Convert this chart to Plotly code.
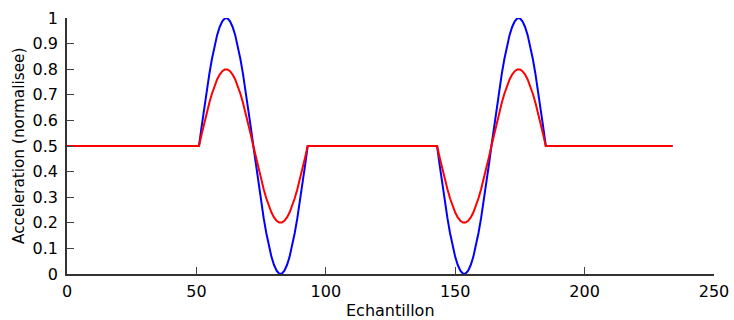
import plotly.graph_objects as go

# Flat segments (sample index, value)
flat1_x = [0, 51]
flat2_x = [93, 143]
flat3_x = [185, 234]
flat_level = 0.5

# Bump 1 (samples 51..93), blue = measured, red = filtered
bump1_x = list(range(51, 94))
blue1 = [0.5, 0.575, 0.647, 0.717, 0.782, 0.840, 0.891, 0.933, 0.965, 0.987, 0.999,
         0.999, 0.987, 0.965, 0.933, 0.891, 0.840, 0.782, 0.717, 0.647, 0.575, 0.5,
         0.425, 0.353, 0.283, 0.218, 0.160, 0.109, 0.067, 0.035, 0.013, 0.001,
         0.001, 0.013, 0.035, 0.067, 0.109, 0.160, 0.218, 0.283, 0.353, 0.425, 0.5]
red1 = [0.5, 0.545, 0.588, 0.630, 0.669, 0.704, 0.735, 0.760, 0.779, 0.792, 0.799,
        0.799, 0.792, 0.779, 0.760, 0.735, 0.704, 0.669, 0.630, 0.588, 0.545, 0.5,
        0.455, 0.412, 0.370, 0.331, 0.296, 0.265, 0.240, 0.221, 0.208, 0.201,
        0.201, 0.208, 0.221, 0.240, 0.265, 0.296, 0.331, 0.370, 0.412, 0.455, 0.5]

# Bump 2 (samples 143..185)
bump2_x = list(range(143, 186))
blue2 = [0.5, 0.425, 0.353, 0.283, 0.218, 0.160, 0.109, 0.067, 0.035, 0.013, 0.001,
         0.001, 0.013, 0.035, 0.067, 0.109, 0.160, 0.218, 0.283, 0.353, 0.425, 0.5,
         0.575, 0.647, 0.717, 0.782, 0.840, 0.891, 0.933, 0.965, 0.987, 0.999,
         0.999, 0.987, 0.965, 0.933, 0.891, 0.840, 0.782, 0.717, 0.647, 0.575, 0.5]
red2 = [0.5, 0.455, 0.412, 0.370, 0.331, 0.296, 0.265, 0.240, 0.221, 0.208, 0.201,
        0.201, 0.208, 0.221, 0.240, 0.265, 0.296, 0.331, 0.370, 0.412, 0.455, 0.5,
        0.545, 0.588, 0.630, 0.669, 0.704, 0.735, 0.760, 0.779, 0.792, 0.799,
        0.799, 0.792, 0.779, 0.760, 0.735, 0.704, 0.669, 0.630, 0.588, 0.545, 0.5]

x_ticks = [0, 50, 100, 150, 200, 250]
y_ticks = [0, 0.1, 0.2, 0.3, 0.4, 0.5, 0.6, 0.7, 0.8, 0.9, 1]
y_tick_labels = ["0", "0.1", "0.2", "0.3", "0.4", "0.5", "0.6", "0.7", "0.8", "0.9", "1"]
x_title = "Echantillon"
y_title = "Acceleration (normalisee)"


def series(ys_bump1, ys_bump2):
    xs = flat1_x[:-1] + bump1_x + flat2_x[1:-1] + bump2_x + flat3_x[1:]
    ys = [flat_level] + ys_bump1 + ys_bump2 + [flat_level]
    return xs, ys


bx, by = series(blue1, blue2)
rx, ry = series(red1, red2)

fig = go.Figure()
fig.add_trace(go.Scatter(x=bx, y=by, mode="lines",
                         line=dict(color="#0000ff", width=2), showlegend=False))
fig.add_trace(go.Scatter(x=rx, y=ry, mode="lines",
                         line=dict(color="#ff0000", width=2), showlegend=False))

font_family = "DejaVu Sans, Liberation Sans, Arial, sans-serif"
fig.update_layout(
    width=734, height=320,
    margin=dict(l=67, r=20, t=18, b=46, autoexpand=False),
    paper_bgcolor="white", plot_bgcolor="white",
    font=dict(family=font_family, size=16, color="#000000"),
)
fig.update_xaxes(
    range=[0, 250], tickvals=x_ticks, ticks="inside", ticklen=7, tickwidth=1,
    tickcolor="#444444", showline=True, linecolor="#333333", linewidth=1.5,
    showgrid=False, zeroline=False, ticklabelstandoff=2, automargin=False,
    tickfont=dict(size=16),
)
fig.update_yaxes(
    range=[0, 1], tickvals=y_ticks, ticktext=y_tick_labels, ticks="inside",
    ticklen=7, tickwidth=1, tickcolor="#444444", showline=True,
    linecolor="#333333", linewidth=1.5, showgrid=False, zeroline=False,
    ticklabelstandoff=4, automargin=False, tickfont=dict(size=16),
)
fig.add_annotation(text=x_title, xref="paper", yref="paper", x=0.5, y=0,
                   yshift=-36, xanchor="center", yanchor="middle",
                   showarrow=False, font=dict(size=16))
fig.add_annotation(text=y_title, xref="paper", yref="paper", x=0, y=0.5,
                   xshift=-48, xanchor="center", yanchor="middle", textangle=-90,
                   showarrow=False, font=dict(size=15.3))

fig.write_html("out.html")
